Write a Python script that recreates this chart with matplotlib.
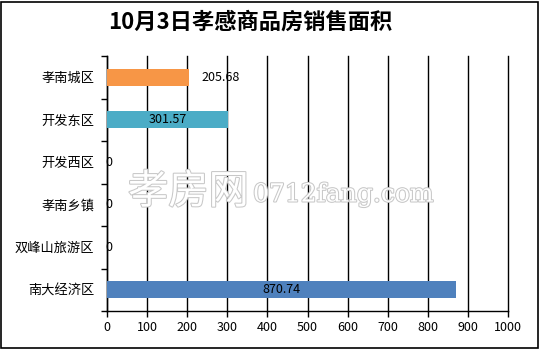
import matplotlib.pyplot as plt
import matplotlib.patches as patches
import matplotlib.patheffects as pe

plt.rcParams['font.family'] = ['Noto Sans CJK SC', 'DejaVu Sans']

districts = ['孝南城区', '开发东区', '开发西区', '孝南乡镇', '双峰山旅游区', '南大经济区']
areas = [205.68, 301.57, 0, 0, 0, 870.74]
bar_colors = ['#F79646', '#4BACC6', '#4F81BD', '#4F81BD', '#4F81BD', '#4F81BD']
x_ticks = list(range(0, 1001, 100))

fig = plt.figure(figsize=(5.4, 3.49), dpi=100)
ax = fig.add_axes([107 / 540, 1 - 311 / 349, 401 / 540, 255 / 349])

pos = list(range(len(districts)))
bars = ax.barh(pos, areas, height=0.4, color=bar_colors, zorder=3)

ax.set_xlim(0, 1000)
ax.set_ylim(len(districts) - 0.5, -0.5)
ax.set_xticks(x_ticks)
ax.set_xticklabels([str(t) for t in x_ticks], fontsize=9)
ax.tick_params(axis='x', direction='out', length=4, width=1, pad=3)

ax.set_yticks(pos)
ax.set_yticklabels(districts, fontsize=9.5)
ax.tick_params(axis='y', which='major', length=0, pad=9)
ax.set_yticks([p - 0.5 for p in pos] + [len(pos) - 0.5], minor=True)
ax.tick_params(axis='y', which='minor', direction='out', length=4, width=1)

# vertical grid, unclipped so the line at 1000 stays full width
ax.grid(axis='x', color='black', linewidth=1, zorder=0)
for gl in ax.get_xgridlines():
    gl.set_clip_on(False)
ax.spines['top'].set_visible(False)
ax.spines['right'].set_visible(False)
for s in ['left', 'bottom']:
    ax.spines[s].set_linewidth(1)

# value labels: short bars get the number outside, long ones inside
for b, v in zip(bars, areas):
    y = b.get_y() + b.get_height() / 2
    if v == 0:
        ax.text(-3, y, '0', ha='left', va='center', fontsize=9, zorder=4)
    elif v < 250:
        ax.text(v + 30, y, f'{v:.2f}', ha='left', va='center', fontsize=9, zorder=4)
    else:
        ax.text(v / 2, y, f'{v:.2f}', ha='center', va='center', fontsize=9, zorder=4)

fig.text(250 / 540, 1 - 22 / 349, '10月3日孝感商品房销售面积', ha='center', va='center',
         fontsize=16, fontweight='bold')

# site watermark, outlined grey letters
fig.text(128 / 540, 1 - 192 / 349, '孝房网', ha='left', va='center', fontsize=29,
         color='white', zorder=5,
         path_effects=[pe.withStroke(linewidth=1.5, foreground='#C8C8C8')])
fig.text(253 / 540, 1 - 195 / 349, '0712fang.com', ha='left', va='center', fontsize=18,
         family=['DejaVu Serif'], color='white', zorder=5,
         path_effects=[pe.withStroke(linewidth=1.5, foreground='#C8C8C8')])

fig.patches.append(patches.Rectangle((1 / 540, 1 / 349), 537 / 540, 346 / 349,
                                     transform=fig.transFigure, fill=False,
                                     edgecolor='black', linewidth=1.2))

fig.savefig('out.png', dpi=100)
